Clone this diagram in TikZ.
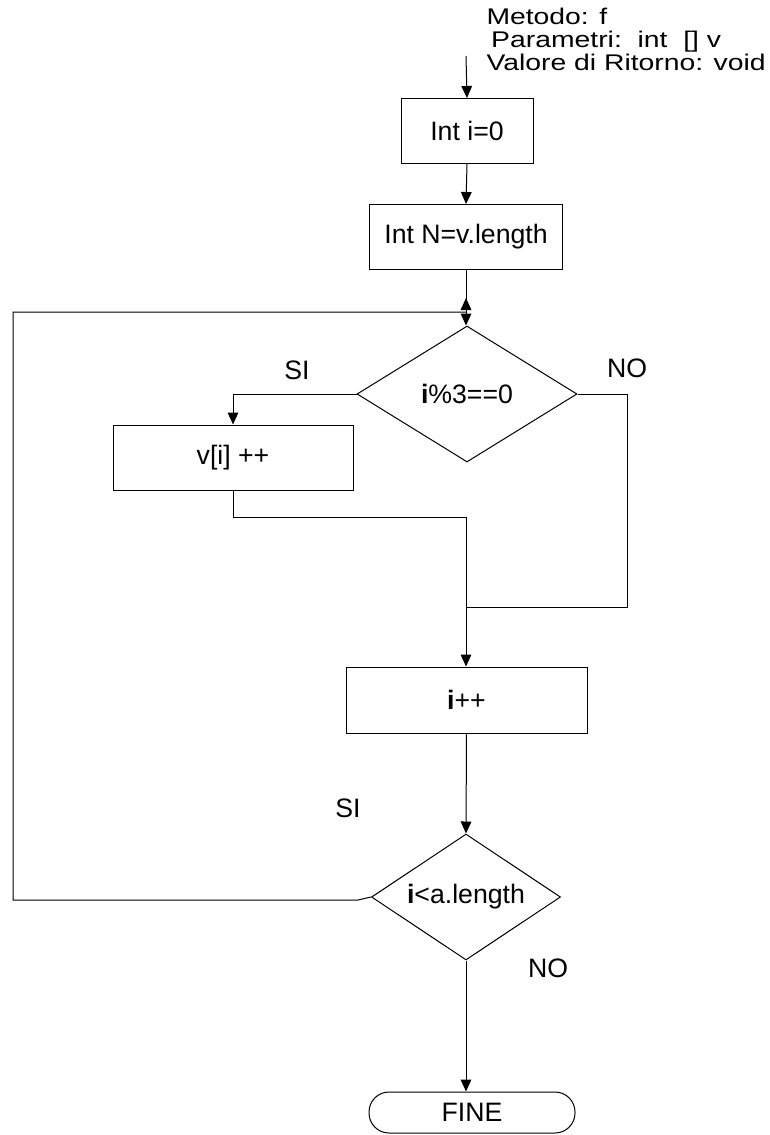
\documentclass[tikz,border=0pt]{standalone}
\usepackage{fontspec}
\setmainfont{Liberation Sans}
\usetikzlibrary{shapes.geometric,arrows.meta}

\begin{document}
\begin{tikzpicture}[x=0.75pt,y=-0.75pt,
  line width=0.75pt,
  every node/.style={font=\fontsize{20}{22}\selectfont},
  stepbox/.style={draw, rectangle, inner sep=0pt, minimum width=#1, minimum height=48.75pt},
  test/.style={draw, diamond, inner sep=0pt, aspect=1.6},
  term/.style={draw, rectangle, rounded corners=15pt, inner sep=0pt, minimum width=154.5pt, minimum height=30.75pt},
  lbl/.style={inner sep=0pt},
  flow/.style={-{Triangle[length=9pt,width=8pt]}},
  wire/.style={-}
]
\useasboundingbox (0,0) rectangle (770,1135);

% header: method signature (wide, condensed-height lettering)
\node[anchor=north west, inner sep=0pt] (sig) at (486,8)
  {\scalebox{1.25}[1]{\fontsize{17}{16.5}\selectfont
   \begin{tabular}{@{}l@{}}Metodo: f\\ \,Parametri:\ \ int\ \ [] v\\ Valore di Ritorno: void\end{tabular}}};

% blocks
\node[stepbox=99pt] (init) at (467,131) {Int i=0};
\node[stepbox=144.75pt] (len) at (466,237) {Int N=v.length};
\node[test, minimum width=165pt, minimum height=102pt] (mod) at (467,394) {\textbf{i}\%3==0};
\node[stepbox=180pt] (inc) at (233,457.5) {v[i] ++};
\node[stepbox=180.75pt, minimum height=49.5pt] (next) at (466.5,700) {\textbf{i}++};
\node[test, minimum width=141.75pt, minimum height=94.5pt] (cond) at (466,897) {\textbf{i}<a.length};
\node[term] (fine) at (472,1112.5) {FINE};

% branch labels
\node[lbl] (si1) at (297,370) {SI};
\node[lbl] (no1) at (627,368) {NO};
\node[lbl] (si2) at (348,808) {SI};
\node[lbl] (no2) at (548,968) {NO};

% routing points
\coordinate (start) at (466,56);
\coordinate (join) at (466,312);
\coordinate (joinup) at (466,298);
\coordinate (siturn) at (233,394);
\coordinate (incturn) at (233,517);
\coordinate (merge1) at (466,517);
\coordinate (noturn) at (627,394);
\coordinate (nodown) at (627,607);
\coordinate (merge2) at (466,607);
\coordinate (loopa) at (358,900);
\coordinate (loopb) at (13,900);
\coordinate (loopc) at (13,312);

% connectors
\draw[flow] (start) -- (init.north);
\draw[flow] (init.south) -- (len.north);
\draw[wire] (len.south) -- (join);
\draw[flow] (join) -- (join |- mod.north);
\draw[flow] (mod.west) -- (siturn) -- (inc.north);
\draw[wire] (inc.south) -- (incturn) -- (merge1);
\draw[wire] (mod.east) -- (noturn) -- (nodown) -- (merge2);
\draw[flow] (merge1) -- (merge1 |- next.north);
\draw[flow] (next.south) -- (cond.north);
\draw[flow] (cond.south) -- (cond.south |- fine.north);
\draw[wire] (cond.west) -- (loopa) -- (loopb) -- (loopc) -- (join);
\draw[flow] (join) -- (joinup);
\end{tikzpicture}
\end{document}
